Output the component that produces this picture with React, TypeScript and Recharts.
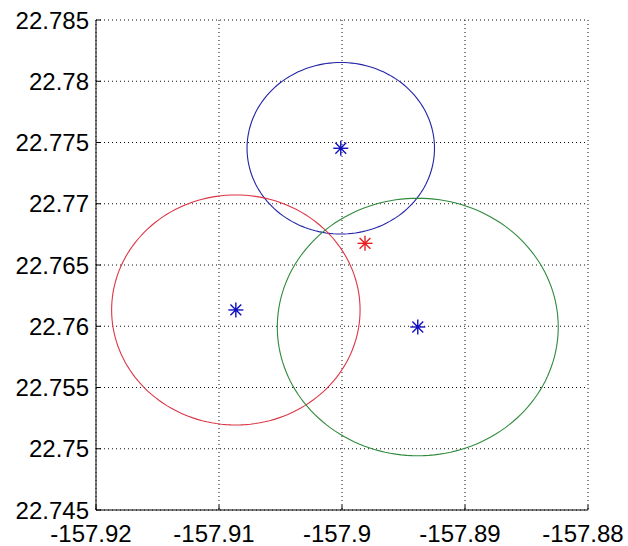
import React from "react";
import { ScatterChart, Scatter, XAxis, YAxis, CartesianGrid } from "recharts";

// Tick values and labels
const xTicks = [-157.92, -157.91, -157.9, -157.89, -157.88];
const xTickLabels = ["-157.92", "-157.91", "-157.9", "-157.89", "-157.88"];
const yTicks = [22.745, 22.75, 22.755, 22.76, 22.765, 22.77, 22.775, 22.78, 22.785];
const yTickLabels = ["22.745", "22.75", "22.755", "22.76", "22.765", "22.77", "22.775", "22.78", "22.785"];

// Circle (station) centers and radii, in degrees
const circleNames = ["blue", "red", "green"];
const circleColors = ["#2424a8", "#dc3545", "#2f8a3c"];
const centerLon = [-157.9001, -157.90863, -157.89384];
const centerLat = [22.77453, 22.76133, 22.75994];
const radiusLon = [0.00762, 0.0101, 0.01142];
const radiusLat = [0.0070, 0.00939, 0.01051];

// Estimated position (red star)
const estimateLon = [-157.89813];
const estimateLat = [22.76677];

const SEGMENTS = 160;

function circlePoints(i: number) {
  const pts: { x: number; y: number }[] = [];
  for (let k = 0; k <= SEGMENTS; k++) {
    const a = (2 * Math.PI * k) / SEGMENTS;
    pts.push({
      x: centerLon[i] + radiusLon[i] * Math.cos(a),
      y: centerLat[i] + radiusLat[i] * Math.sin(a),
    });
  }
  return pts;
}

const centers = centerLon.map((x, i) => ({ x, y: centerLat[i] }));
const estimates = estimateLon.map((x, i) => ({ x, y: estimateLat[i] }));

function Asterisk(props: any) {
  const { cx, cy, color } = props;
  if (cx == null || cy == null) return <g />;
  const r = 7.5;
  const d = r * 0.72;
  return (
    <g stroke={color} strokeWidth={1.4} fill="none">
      <line x1={cx - r} y1={cy} x2={cx + r} y2={cy} />
      <line x1={cx} y1={cy - r} x2={cx} y2={cy + r} />
      <line x1={cx - d} y1={cy - d} x2={cx + d} y2={cy + d} />
      <line x1={cx - d} y1={cy + d} x2={cx + d} y2={cy - d} />
      <circle cx={cx} cy={cy} r={1.8} fill={color} stroke="none" />
    </g>
  );
}

const tickFont = { fontFamily: "'Liberation Sans', Arial, sans-serif", fontSize: 24, fill: "#000" };

export default function App() {
  return (
    <div style={{ position: "absolute", left: 0, top: 0, width: 628, height: 546, background: "#fff" }}>
      <ScatterChart width={628} height={546} margin={{ top: 20, right: 40, bottom: 0, left: 0 }}>
        <CartesianGrid stroke="#111" strokeDasharray="1 3" />
        <XAxis
          type="number"
          dataKey="x"
          domain={[-157.92, -157.88]}
          ticks={xTicks}
          allowDataOverflow
          height={36}
          tickSize={-5}
          tickMargin={20}
          axisLine={{ stroke: "#000" }}
          tickLine={{ stroke: "#000" }}
          tick={{ ...tickFont, dx: -5 }}
          tickFormatter={(v: number, i: number) => xTickLabels[i] ?? String(v)}
          interval={0}
        />
        <XAxis
          xAxisId="top"
          orientation="top"
          type="number"
          dataKey="x"
          domain={[-157.92, -157.88]}
          ticks={xTicks}
          allowDataOverflow
          height={0}
          tickSize={-5}
          tick={false}
          axisLine={{ stroke: "#000" }}
          tickLine={{ stroke: "#000" }}
        />
        <YAxis
          type="number"
          dataKey="y"
          domain={[22.745, 22.785]}
          ticks={yTicks}
          allowDataOverflow
          width={96}
          tickSize={-5}
          tickMargin={12}
          axisLine={{ stroke: "#000" }}
          tickLine={{ stroke: "#000" }}
          tick={tickFont}
          tickFormatter={(v: number, i: number) => yTickLabels[i] ?? String(v)}
          interval={0}
        />
        <YAxis
          yAxisId="right"
          orientation="right"
          type="number"
          dataKey="y"
          domain={[22.745, 22.785]}
          ticks={yTicks}
          allowDataOverflow
          width={0}
          tickSize={-5}
          tick={false}
          axisLine={{ stroke: "#000" }}
          tickLine={{ stroke: "#000" }}
        />
        {circleNames.map((name, i) => (
          <Scatter
            key={name}
            name={name}
            data={circlePoints(i)}
            line={{ stroke: circleColors[i], strokeWidth: 1.1 }}
            lineType="joint"
            shape={() => <g />}
            isAnimationActive={false}
          />
        ))}
        <Scatter
          name="centers"
          data={centers}
          shape={(p: any) => <Asterisk {...p} color="#1010c0" />}
          isAnimationActive={false}
        />
        <Scatter
          name="estimate"
          data={estimates}
          shape={(p: any) => <Asterisk {...p} color="#e82020" />}
          isAnimationActive={false}
        />
      </ScatterChart>
    </div>
  );
}
